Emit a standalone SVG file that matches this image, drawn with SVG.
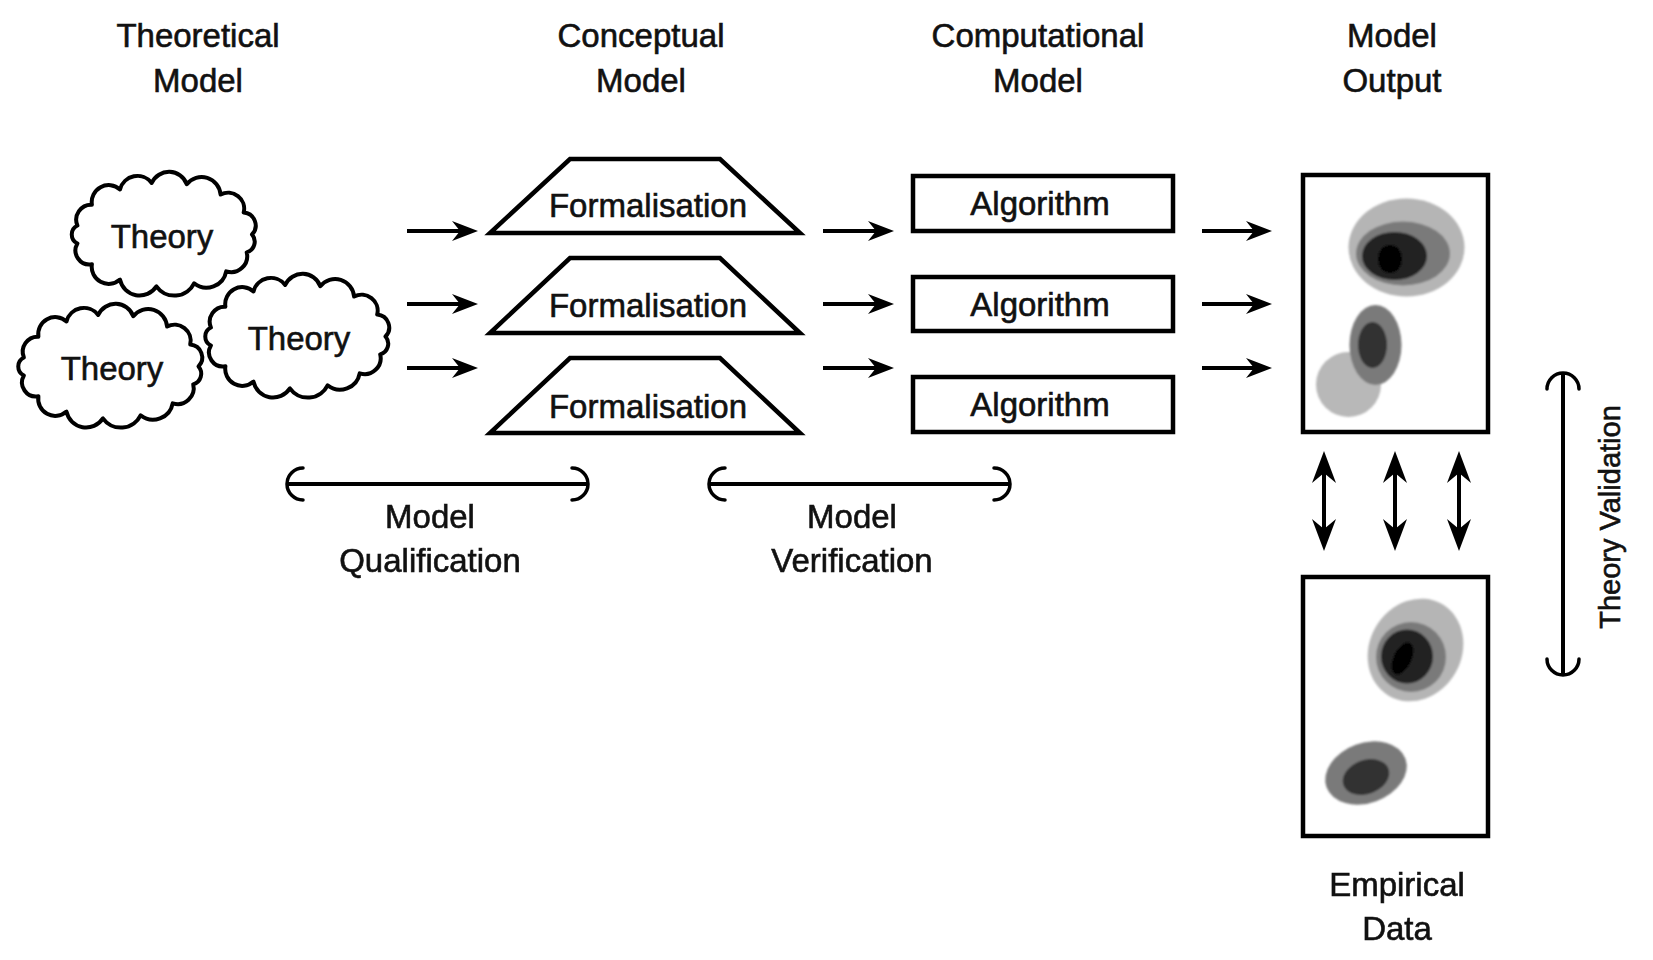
<svg xmlns="http://www.w3.org/2000/svg" xmlns:xlink="http://www.w3.org/1999/xlink" width="1653" height="960" viewBox="0 0 1653 960">
<style>
  text { font-family: "Liberation Sans", Arial, Helvetica, sans-serif; fill: #111; stroke: #111; stroke-width: 0.6; font-size: 33px; text-anchor: middle; }
  .shape { fill: #fff; stroke: #000; stroke-width: 4.5; stroke-linejoin: miter; }
  .cloudp { fill: #fff; stroke: #000; stroke-width: 4; stroke-linejoin: round; }
  .conn { fill: none; stroke: #000; stroke-width: 4; }
  .hook { fill: none; stroke: #000; stroke-width: 3.5; stroke-linecap: round; }
  .l1 { fill: #b5b5b5; }
  .l2 { fill: #7a7a7a; }
  .l3 { fill: #222; }
  .l4 { fill: #000; }
</style>
<defs>
  <filter id="soft" x="-10%" y="-10%" width="120%" height="120%">
    <feGaussianBlur stdDeviation="0.8"/>
  </filter>
  <marker id="ah" viewBox="-28 -12 30 24" refX="-8" refY="0" markerWidth="30" markerHeight="24" orient="auto-start-reverse" markerUnits="userSpaceOnUse">
    <path d="M0,0 L-26,-10 L-18,0 L-26,10 Z" fill="#000"/>
  </marker>
  <marker id="ahv" viewBox="-34 -13 36 26" refX="-8" refY="0" markerWidth="36" markerHeight="26" orient="auto-start-reverse" markerUnits="userSpaceOnUse">
    <path d="M0,0 L-32,-12 L-22,0 L-32,12 Z" fill="#000"/>
  </marker>
  <path id="cloud" class="cloudp" d="M88,0 A11,11 0 0 1 82.7,17.8 A16,16 0 0 1 62.2,36.8 A20,20 0 0 1 30.1,48.8 A22,22 0 0 1 -7.6,51.8 A20,20 0 0 1 -44,45.1 A17,17 0 0 1 -72.1,29.8 A14,14 0 0 1 -86.6,9 A10,10 0 0 1 -86.6,-9 A15,15 0 0 1 -72.1,-29.8 A17,17 0 0 1 -44,-45.1 A18,18 0 0 1 -12.3,-51.5 A19,19 0 0 1 22.8,-50.3 A19,19 0 0 1 56.6,-39.9 A16,16 0 0 1 79.7,-22 A13,13 0 0 1 88,0 Z"/>
</defs>

<rect x="0" y="0" width="1653" height="960" fill="#fff"/>

<!-- Column titles -->
<g id="title-theoretical">
  <text x="198" y="47">Theoretical</text>
  <text x="198" y="92">Model</text>
</g>
<g id="title-conceptual">
  <text x="641" y="47">Conceptual</text>
  <text x="641" y="92">Model</text>
</g>
<g id="title-computational">
  <text x="1038" y="47">Computational</text>
  <text x="1038" y="92">Model</text>
</g>
<g id="title-output">
  <text x="1392" y="47">Model</text>
  <text x="1392" y="92">Output</text>
</g>

<!-- Theory clouds -->
<g id="theory-1">
  <use xlink:href="#cloud" href="#cloud" x="164" y="234.5"/>
  <text x="162" y="248">Theory</text>
</g>
<g id="theory-2">
  <use xlink:href="#cloud" href="#cloud" x="110.5" y="366.5"/>
  <text x="112" y="380">Theory</text>
</g>
<g id="theory-3">
  <use xlink:href="#cloud" href="#cloud" x="297.5" y="336.5"/>
  <text x="299" y="350">Theory</text>
</g>

<!-- Formalisation trapezoids -->
<g id="formalisation-1">
  <polygon class="shape" points="570,159 720,159 800,233 490,233"/>
  <text x="648" y="217">Formalisation</text>
</g>
<g id="formalisation-2">
  <polygon class="shape" points="570,258 720,258 800,333 490,333"/>
  <text x="648" y="317">Formalisation</text>
</g>
<g id="formalisation-3">
  <polygon class="shape" points="570,358 720,358 800,433 490,433"/>
  <text x="648" y="418">Formalisation</text>
</g>

<!-- Algorithm boxes -->
<g id="algorithm-1">
  <rect class="shape" x="913" y="176" width="260" height="55"/>
  <text x="1040" y="215">Algorithm</text>
</g>
<g id="algorithm-2">
  <rect class="shape" x="913" y="277" width="260" height="54"/>
  <text x="1040" y="316">Algorithm</text>
</g>
<g id="algorithm-3">
  <rect class="shape" x="913" y="377" width="260" height="55"/>
  <text x="1040" y="416">Algorithm</text>
</g>

<!-- Model output panel -->
<g id="model-output">
  <rect class="shape" x="1303" y="175" width="185" height="257"/>
  <g filter="url(#soft)">
    <ellipse class="l1" cx="1406.5" cy="247.5" rx="58" ry="49"/>
    <ellipse class="l2" cx="1403" cy="253.5" rx="47" ry="32"/>
    <ellipse class="l3" cx="1394.5" cy="256" rx="32.5" ry="24"/>
    <ellipse class="l4" cx="1390" cy="259" rx="12" ry="14"/>
    <circle fill="#b8b8b8" cx="1348.5" cy="384.5" r="32.5"/>
    <ellipse class="l2" cx="1375.5" cy="345" rx="26" ry="40"/>
    <ellipse fill="#333" cx="1372.5" cy="345" rx="14.5" ry="23"/>
  </g>
</g>

<!-- Empirical data panel -->
<g id="empirical-data">
  <rect class="shape" x="1303" y="577" width="185" height="259"/>
  <g filter="url(#soft)">
    <ellipse class="l1" cx="1415.5" cy="650" rx="46" ry="53" transform="rotate(30 1415.5 650)"/>
    <ellipse class="l2" cx="1411" cy="657" rx="35" ry="35"/>
    <ellipse class="l3" cx="1407" cy="656.5" rx="26" ry="27"/>
    <ellipse class="l4" cx="1402.5" cy="658.5" rx="9" ry="17" transform="rotate(25 1402.5 658.5)"/>
    <ellipse class="l2" cx="1366" cy="773" rx="42" ry="30" transform="rotate(-20 1366 773)"/>
    <ellipse fill="#333" cx="1366" cy="777" rx="24" ry="17" transform="rotate(-20 1366 777)"/>
  </g>
  <text x="1397" y="896">Empirical</text>
  <text x="1397" y="940">Data</text>
</g>

<!-- Connectors -->
<g id="connectors">
  <!-- theory -> formalisation -->
  <line class="conn" x1="407" y1="231" x2="470" y2="231" marker-end="url(#ah)"/>
  <line class="conn" x1="407" y1="304" x2="470" y2="304" marker-end="url(#ah)"/>
  <line class="conn" x1="407" y1="368" x2="470" y2="368" marker-end="url(#ah)"/>
  <!-- formalisation -> algorithm -->
  <line class="conn" x1="823" y1="231" x2="886" y2="231" marker-end="url(#ah)"/>
  <line class="conn" x1="823" y1="304" x2="886" y2="304" marker-end="url(#ah)"/>
  <line class="conn" x1="823" y1="368" x2="886" y2="368" marker-end="url(#ah)"/>
  <!-- algorithm -> output -->
  <line class="conn" x1="1202" y1="231" x2="1264" y2="231" marker-end="url(#ah)"/>
  <line class="conn" x1="1202" y1="304" x2="1264" y2="304" marker-end="url(#ah)"/>
  <line class="conn" x1="1202" y1="368" x2="1264" y2="368" marker-end="url(#ah)"/>
  <!-- output <-> empirical -->
  <line class="conn" x1="1324" y1="459" x2="1324" y2="543" marker-start="url(#ahv)" marker-end="url(#ahv)"/>
  <line class="conn" x1="1395" y1="459" x2="1395" y2="543" marker-start="url(#ahv)" marker-end="url(#ahv)"/>
  <line class="conn" x1="1459" y1="459" x2="1459" y2="543" marker-start="url(#ahv)" marker-end="url(#ahv)"/>

  <!-- Model Qualification -->
  <line class="conn" x1="287" y1="484" x2="588" y2="484"/>
  <path class="hook" d="M303,468 A16,16 0 0 0 303,500"/>
  <path class="hook" d="M572,468 A16,16 0 0 1 572,500"/>
  <!-- Model Verification -->
  <line class="conn" x1="709" y1="484" x2="1010" y2="484"/>
  <path class="hook" d="M725,468 A16,16 0 0 0 725,500"/>
  <path class="hook" d="M994,468 A16,16 0 0 1 994,500"/>
  <!-- Theory Validation -->
  <line class="conn" x1="1563" y1="373" x2="1563" y2="675"/>
  <path class="hook" d="M1547,389 A16,16 0 0 1 1579,389"/>
  <path class="hook" d="M1547,659 A16,16 0 0 0 1579,659"/>
</g>

<!-- Labels of the range connectors -->
<g id="label-qualification">
  <text x="430" y="528">Model</text>
  <text x="430" y="572">Qualification</text>
</g>
<g id="label-verification">
  <text x="852" y="528">Model</text>
  <text x="852" y="572">Verification</text>
</g>
<g id="label-validation">
  <text transform="translate(1620,517) rotate(-90)" style="font-size:29px">Theory Validation</text>
</g>
</svg>
